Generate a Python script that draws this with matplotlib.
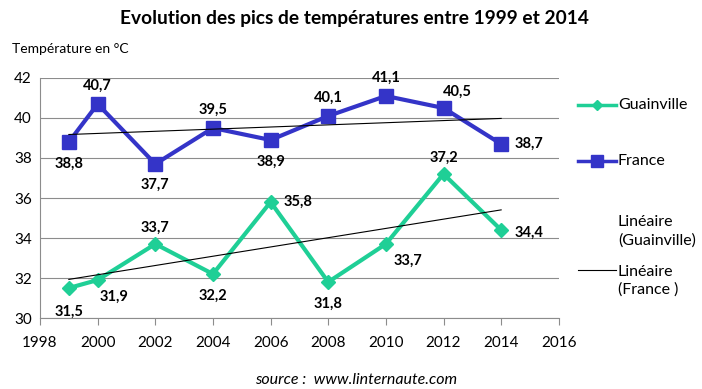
import numpy as np
import matplotlib.pyplot as plt
from matplotlib.lines import Line2D

plt.rcParams['font.family'] = ['Lato', 'DejaVu Sans']

years = [1999, 2000, 2002, 2004, 2006, 2008, 2010, 2012, 2014]
guainville = [31.5, 31.9, 33.7, 32.2, 35.8, 31.8, 33.7, 37.2, 34.4]
france = [38.8, 40.7, 37.7, 39.5, 38.9, 40.1, 41.1, 40.5, 38.7]

# label offsets in points (dx, dy) for each point
off_g = [(0, -17), (12, -12), (0, 12), (0, -16), (20, 0), (0, -16), (16, -12), (0, 12), (20, -2)]
off_f = [(0, -16), (0, 13), (0, -15), (0, 13), (0, -16), (0, 13), (0, 13), (10, 12), (20, 0)]

c_g = '#1fcf96'
c_f = '#3434c8'

fig = plt.figure(figsize=(7.02, 3.89), dpi=100)
ax = fig.add_axes([0.057, 0.1825, 0.739, 0.617])

ax.plot(years, guainville, color=c_g, lw=3, marker='D', ms=7, zorder=3)
ax.plot(years, france, color=c_f, lw=3, marker='s', ms=10, zorder=3)

# linear trends
xs = np.array([years[0], years[-1]])
for vals in (guainville, france):
    a, b = np.polyfit(years, vals, 1)
    ax.plot(xs, a * xs + b, color='black', lw=0.8, zorder=4)

for x, y, (dx, dy) in zip(years, guainville, off_g):
    ax.annotate(f'{y:.1f}'.replace('.', ','), (x, y), xytext=(dx, dy), textcoords='offset points',
                ha='center', va='center', fontsize=10.5, fontweight='bold')
for x, y, (dx, dy) in zip(years, france, off_f):
    ax.annotate(f'{y:.1f}'.replace('.', ','), (x, y), xytext=(dx, dy), textcoords='offset points',
                ha='center', va='center', fontsize=10.5, fontweight='bold')

ax.set_xlim(1998, 2016)
ax.set_ylim(30, 42)
ax.set_xticks(range(1998, 2017, 2))
ax.set_yticks(range(30, 43, 2))
ax.grid(axis='y', color='#8c8c8c', lw=0.8)
ax.set_axisbelow(True)
for s in ('top', 'right'):
    ax.spines[s].set_visible(False)
ax.spines['left'].set_color('#8c8c8c')
ax.spines['bottom'].set_color('#8c8c8c')
ax.tick_params(axis='y', length=0, labelsize=11, pad=6)
ax.tick_params(axis='x', length=5, color='#8c8c8c', labelsize=11, pad=8)

fig.text(0.505, 0.952, 'Evolution des pics de températures entre 1999 et 2014',
         ha='center', va='center', fontsize=13.8, fontweight='bold')
fig.text(0.017, 0.875, 'Température en °C', ha='left', va='center', fontsize=10)
fig.text(0.507, 0.022, 'source :  www.linternaute.com', ha='center', va='center',
         fontsize=11.5, style='italic')

# legend
def entry(y, label, color=None, marker=None, ms=0):
    if color:
        fig.add_artist(Line2D([0.823, 0.878], [y, y], color=color, lw=2.5,
                              transform=fig.transFigure))
        fig.add_artist(Line2D([0.85], [y], color=color, marker=marker, ms=ms,
                              transform=fig.transFigure))
    fig.text(0.88, y, label, ha='left', va='center', fontsize=11.5, linespacing=1.35)

entry(0.73, 'Guainville', c_g, 'D', 5)
entry(0.587, 'France', c_f, 's', 9)
fig.text(0.88, 0.405, 'Linéaire\n(Guainville)', ha='left', va='center', fontsize=11.5, linespacing=1.35)
fig.add_artist(Line2D([0.823, 0.878], [0.305, 0.305], color='black', lw=0.8, transform=fig.transFigure))
fig.text(0.88, 0.278, 'Linéaire\n(France )', ha='left', va='center', fontsize=11.5, linespacing=1.35)

fig.savefig('out.png', dpi=100)
